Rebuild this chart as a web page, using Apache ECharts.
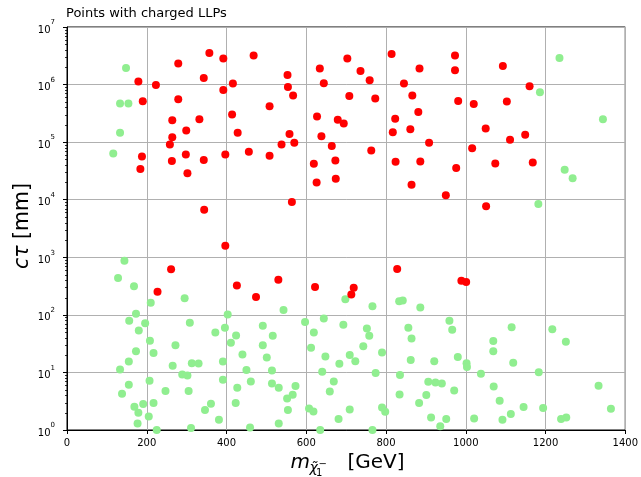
<!DOCTYPE html>
<html>
<head>
<meta charset="utf-8">
<script src="https://cdn.jsdelivr.net/npm/echarts@6/dist/echarts.min.js"></script>
<style>
html,body{margin:0;padding:0;background:#fff;}
#chart{width:641px;height:477px;}
</style>
</head>
<body>
<div id="chart"></div>
<script>
const titleText = 'Points with charged LLPs';
const xTicks = [0, 200, 400, 600, 800, 1000, 1200, 1400];
const yTickExponents = [0, 1, 2, 3, 4, 5, 6, 7];

const redMass = [357,392,468,279,179,223,343,392,416,190,279,264,332,414,299,264,428,258,188,298,263,343,397,456,184,302,344,
  553,554,567,508,558,538,570,508,564,634,703,736,759,644,708,773,627,679,694,638,664,763,619,673,626,674,
  814,884,845,866,881,823,861,817,908,824,886,864,950,
  973,973,1093,1160,981,1020,1103,1050,1111,1149,1016,976,1074,1168,1051,
  397,261,426,227,474,530,622,719,713,828,989,1001];
const redCtau = [3.54e6,2.83e6,3.19e6,2.32e6,1.13e6,9.86e5,1.30e6,8.07e5,1.04e6,5.14e5,5.57e5,2.41e5,2.51e5,3.02e5,1.60e5,1.22e5,1.45e5,9.12e4,5.65e4,6.12e4,4.69e4,4.88e4,6.12e4,6.79e4,3.40e4,2.87e4,6.70e3,
  1.47e6,9.10e5,6.46e5,4.21e5,1.39e5,9.12e4,9.72e4,5.78e4,9.11e3,1.90e6,2.83e6,1.72e6,1.19e6,1.05e6,6.35e5,5.73e5,2.79e5,2.44e5,2.11e5,1.26e5,8.53e4,7.18e4,4.21e4,4.82e4,2.00e4,2.31e4,
  3.40e6,1.90e6,1.04e6,6.46e5,3.35e5,2.54e5,1.68e5,1.49e5,9.72e4,4.55e4,4.63e4,1.82e4,1.20e4,
  3.19e6,1.77e6,2.10e6,9.36e5,5.20e5,4.61e5,5.08e5,1.73e5,1.10e5,1.34e5,7.87e4,3.54e4,4.27e4,4.45e4,7.67e3,
  1590,620,322,253,205,409,306,297,225,627,393,373];

const greenMass = [148,133,154,133,116,1235,1186,1344,1248,1268,1182,
  144,128,168,295,210,173,403,156,196,308,396,180,372,424,208,411,272,173,217,440,155,391,265,313,330,133,450,289,302,207,391,461,155,427,138,247,305,217,191,169,361,423,179,346,205,381,177,225,311,459,
  543,698,766,833,842,886,597,644,491,693,752,856,959,516,619,758,864,491,612,743,790,501,648,709,862,921,683,723,514,640,774,835,514,531,573,669,906,924,940,566,552,659,834,901,883,554,607,618,709,790,798,913,531,681,951,936,635,766,
  966,1115,1217,1251,1069,1069,980,1002,1003,1119,1038,1183,971,1070,1333,1085,1145,1194,1364,1113,1021,1092,1239,1252];
const greenCtau = [1.94e6,4.69e5,4.69e5,1.45e5,6.37e4,2.90e6,7.36e5,2.51e5,3.31e4,2.37e4,8410,
  874,438,314,195,163,105,101,78.7,71.7,72.6,59.5,53.4,49.3,43.7,35.4,32.7,29.8,23.4,21.7,20.5,15.5,15.5,13.0,14.5,14.3,11.2,11.0,9.21,8.85,7.16,7.45,6.97,6.10,5.42,4.26,4.75,4.75,2.94,2.82,2.54,2.86,2.94,2.00,2.22,1.72,1.51,1.30,1.0,1.08,1.10,
  121,187,141,173,177,134,75.5,86.2,64.4,67.0,57.8,59.5,78.7,43.2,49.3,43.2,38.8,29.8,26.8,28.6,22.2,18.2,18.9,20.0,16.4,15.7,14.1,15.7,10.8,10.3,9.74,8.99,6.43,5.42,5.80,6.97,6.88,6.69,6.43,4.10,3.53,4.67,4.14,4.05,2.94,2.22,2.37,2.10,2.28,2.47,2.08,1.65,1.30,1.55,1.55,1.16,1.0,1.0,
  54.9,61.1,56.5,34.0,35.0,23.4,18.5,14.5,12.4,14.7,9.47,10.1,4.86,5.70,5.87,3.22,2.51,2.41,2.34,1.89,1.59,1.51,1.55,1.65];

const FONT = '"DejaVu Sans"';
const redData = redMass.map((m, i) => [m, redCtau[i]]);
const greenData = greenMass.map((m, i) => [m, greenCtau[i]]);

const chart = echarts.init(document.getElementById('chart'), null, {renderer: 'canvas'});

const baseGraphics = [
  {type: 'text', x: 290.5, y: 463, style: {text: 'm', fontFamily: FONT, fontStyle: 'italic', fontSize: 20, fill: '#000', align: 'left', verticalAlign: 'middle'}},
  {type: 'text', x: 309.5, y: 468, style: {text: 'χ\u0303', fontFamily: FONT, fontStyle: 'italic', fontSize: 14, fill: '#000', align: 'left', verticalAlign: 'middle'}},
  {type: 'text', x: 316, y: 473, style: {text: '1', fontFamily: FONT, fontSize: 10, fill: '#000', align: 'left', verticalAlign: 'middle'}},
  {type: 'text', x: 318.5, y: 464, style: {text: '\u2212', fontFamily: FONT, fontSize: 10, fill: '#000', align: 'left', verticalAlign: 'middle'}},
  {type: 'text', x: 347.5, y: 463, style: {text: '[GeV]', fontFamily: FONT, fontSize: 20, fill: '#000', align: 'left', verticalAlign: 'middle'}},
  {type: 'text', x: 23, y: 226, rotation: Math.PI / 2, style: {text: '{i|cτ} [mm]', fontFamily: FONT, fontSize: 20.5, fill: '#000', align: 'center', verticalAlign: 'middle',
    rich: {i: {fontFamily: FONT, fontStyle: 'italic', fontSize: 20.5, fill: '#000'}}}}
];

const option = {
  animation: false,
  backgroundColor: '#fff',
  title: {
    text: titleText, left: 66, top: 7, padding: 0,
    textStyle: {fontFamily: FONT, fontSize: 13, fontWeight: 'normal', color: '#000'}
  },
  grid: {left: 67, right: 13, top: 27, bottom: 47, show: true, borderColor: '#000', borderWidth: 1, containLabel: false},
  xAxis: {
    type: 'value', min: xTicks[0], max: xTicks[xTicks.length - 1], interval: 200,
    axisLine: {show: true, lineStyle: {color: '#000', width: 1}},
    axisTick: {show: true, length: 4, lineStyle: {color: '#000'}},
    axisLabel: {fontFamily: FONT, fontSize: 10, color: '#000', margin: 8,
      formatter: v => (xTicks.indexOf(v) >= 0 ? String(v) : '')},
    splitLine: {show: true, lineStyle: {color: '#b0b0b0', width: 1}}
  },
  yAxis: {
    type: 'log', logBase: 10, min: Math.pow(10, yTickExponents[0]), max: Math.pow(10, yTickExponents[yTickExponents.length - 1]),
    splitNumber: 7,
    axisLine: {show: true, lineStyle: {color: '#000', width: 1}},
    axisTick: {show: true, length: 4, lineStyle: {color: '#000'}},
    axisLabel: {
      margin: 12, color: '#000',
      formatter: v => {
        const e = Math.round(Math.log10(v));
        return '{b|10}{e|' + e + '}';
      },
      rich: {
        b: {fontFamily: FONT, fontSize: 10, color: '#000', lineHeight: 16, verticalAlign: 'bottom'},
        e: {fontFamily: FONT, fontSize: 7, color: '#000', lineHeight: 9, verticalAlign: 'top'}
      }
    },
    splitLine: {show: true, lineStyle: {color: '#b0b0b0', width: 1}}
  },
  series: [
    {type: 'scatter', name: 'neutral', data: greenData, symbol: 'circle', symbolSize: 8,
      itemStyle: {color: '#90ee90', opacity: 1}, emphasis: {disabled: true}, z: 2},
    {type: 'scatter', name: 'charged', data: redData, symbol: 'circle', symbolSize: 8,
      itemStyle: {color: '#ff0000', opacity: 1}, emphasis: {disabled: true}, z: 3}
  ],
  graphic: baseGraphics
};
chart.setOption(option);

// minor ticks on the log axis (2..9 x 10^k)
const minor = [];
const x0 = chart.convertToPixel({xAxisIndex: 0}, 0);
for (let k = yTickExponents[0]; k < yTickExponents[yTickExponents.length - 1]; k++) {
  for (let j = 2; j <= 9; j++) {
    const py = Math.round(chart.convertToPixel({yAxisIndex: 0}, j * Math.pow(10, k))) + 0.5;
    minor.push({type: 'line', silent: true, shape: {x1: x0 - 2, y1: py, x2: x0, y2: py}, style: {stroke: '#000', lineWidth: 0.8}});
  }
}
chart.setOption({graphic: baseGraphics.concat(minor)});
</script>
</body>
</html>
